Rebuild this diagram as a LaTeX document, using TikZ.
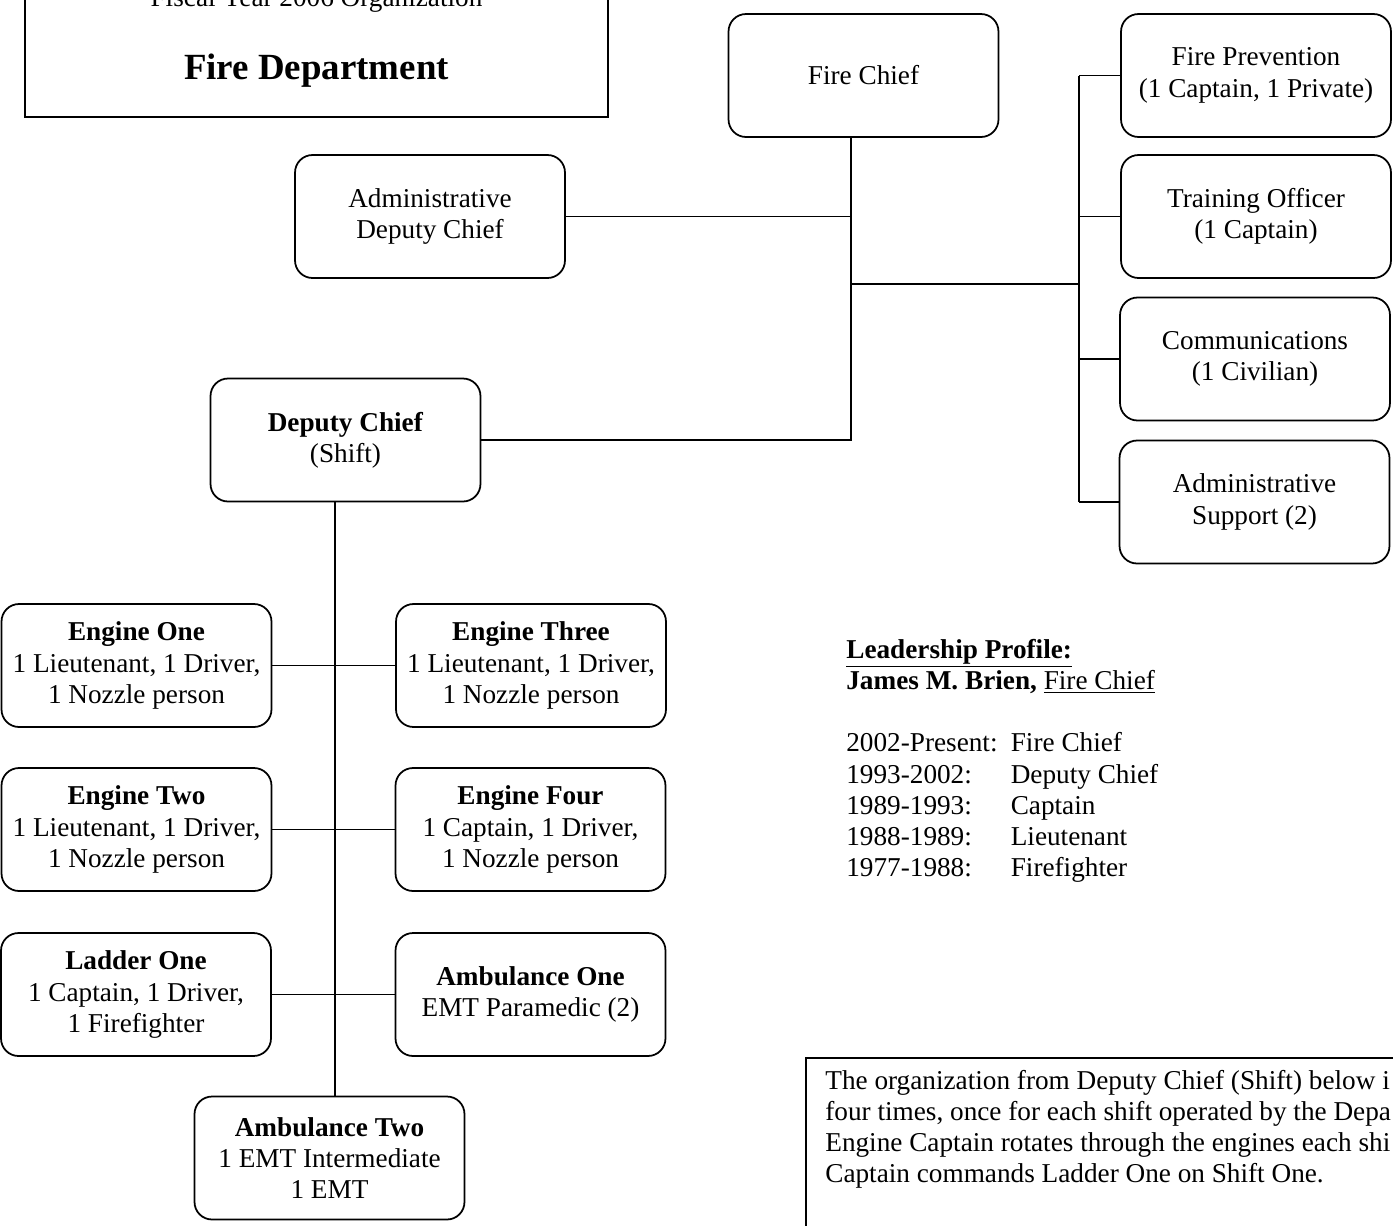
\documentclass[tikz,border=0pt]{standalone}
\usepackage{fontspec}
\setmainfont{Liberation Serif}
\usetikzlibrary{positioning}

\begin{document}
\begin{tikzpicture}[
    x=0.02cm, y=-0.02cm,
    % Common text settings
    every node/.style={
        font=\fontsize{15.5}{17.8}\selectfont
    },
    % Boxes of the chart
    unit/.style={
        draw,
        line width=1pt,
        rounded corners=0.35cm,
        minimum width=5.4cm,
        minimum height=2.46cm,
        align=center,
        inner sep=2pt
    },
    frame/.style={
        draw,
        line width=1pt,
        inner sep=0pt
    },
    link/.style={line width=1pt},
    plain/.style={inner sep=0pt}
]
    \useasboundingbox (0,0) rectangle (1393,1225);

    % Title box
    \node[frame, minimum width=11.66cm, minimum height=3.14cm] (titlebox) at (316.5,38.5) {};
    \node[plain, anchor=base] (fiscal) at (316.5,6) {Fiscal Year 2006 Organization};
    \node[plain, anchor=base, font=\fontsize{21}{24}\selectfont\bfseries] (dept) at (316.5,79) {Fire Department};

    % Chief and staff
    \node[unit] (chief) at (863.5,75.5) {Fire Chief};
    \node[unit] (admin) at (430,216.5) {Administrative\\Deputy Chief};
    \node[unit] (shift) at (345.5,440) {\textbf{Deputy Chief}\\(Shift)};

    % Staff offices
    \node[unit] (prevent) at (1256,75.5) {Fire Prevention\\(1 Captain, 1 Private)};
    \node[unit] (training) at (1256,216.5) {Training Officer\\(1 Captain)};
    \node[unit] (comms) at (1255,359) {Communications\\(1 Civilian)};
    \node[unit] (support) at (1254.5,502) {Administrative\\Support (2)};

    % Shift companies
    \node[unit] (eng1) at (136.5,665.5) {\textbf{Engine One}\\1 Lieutenant, 1 Driver,\\1 Nozzle person};
    \node[unit] (eng3) at (531,665.5) {\textbf{Engine Three}\\1 Lieutenant, 1 Driver,\\1 Nozzle person};
    \node[unit] (eng2) at (136.5,829.5) {\textbf{Engine Two}\\1 Lieutenant, 1 Driver,\\1 Nozzle person};
    \node[unit] (eng4) at (530.5,829.5) {\textbf{Engine Four}\\1 Captain, 1 Driver,\\1 Nozzle person};
    \node[unit] (ladder) at (136,994.5) {\textbf{Ladder One}\\1 Captain, 1 Driver,\\1 Firefighter};
    \node[unit] (amb1) at (530.5,994.5) {\textbf{Ambulance One}\\EMT Paramedic (2)};
    \node[unit] (amb2) at (329.5,1158) {\textbf{Ambulance Two}\\1 EMT Intermediate\\1 EMT};

    % Connect chief
    \coordinate (split) at (851,284);
    \coordinate (bus) at (1079,284);
    \coordinate (spine) at (335,800);
    \draw[link] (chief.south -| split) |- (shift.east);
    \draw[link] (admin.east) -- (admin.east -| split);
    \draw[link] (split) -- (bus);
    \draw[link] (prevent.west -| bus) -- (support.west -| bus);
    \foreach \n in {prevent,training,comms,support}
        \draw[link] (\n.west -| bus) -- (\n.west);

    % Connect shift
    \draw[link] (shift.south -| spine) -- (amb2.north -| spine);
    \draw[link] (eng1) -- (eng3);
    \draw[link] (eng2) -- (eng4);
    \draw[link] (ladder) -- (amb1);

    % Leadership profile
    \node[plain, anchor=base west] (profile) at (846,658) {\begin{tabular}[t]{@{}p{93.6pt}@{}l@{}}
        \multicolumn{2}{@{}l@{}}{\textbf{\underline{Leadership Profile:}}}\\
        \multicolumn{2}{@{}l@{}}{\textbf{James M. Brien,} \underline{Fire Chief}}\\
        \\
        2002-Present: & Fire Chief\\
        1993-2002: & Deputy Chief\\
        1989-1993: & Captain\\
        1988-1989: & Lieutenant\\
        1977-1988: & Firefighter
    \end{tabular}};

    % Note box
    \node[frame, anchor=north west, minimum width=13.1cm, minimum height=4.26cm] (notebox) at (805,1057) {};
    \node[plain, anchor=base west] (notetext) at (825,1089) {\begin{tabular}[t]{@{}l@{}}
        The organization from Deputy Chief (Shift) below i\\
        four times, once for each shift operated by the Depa\\
        Engine Captain rotates through the engines each shi\\
        Captain commands Ladder One on Shift One.
    \end{tabular}};
\end{tikzpicture}
\end{document}
